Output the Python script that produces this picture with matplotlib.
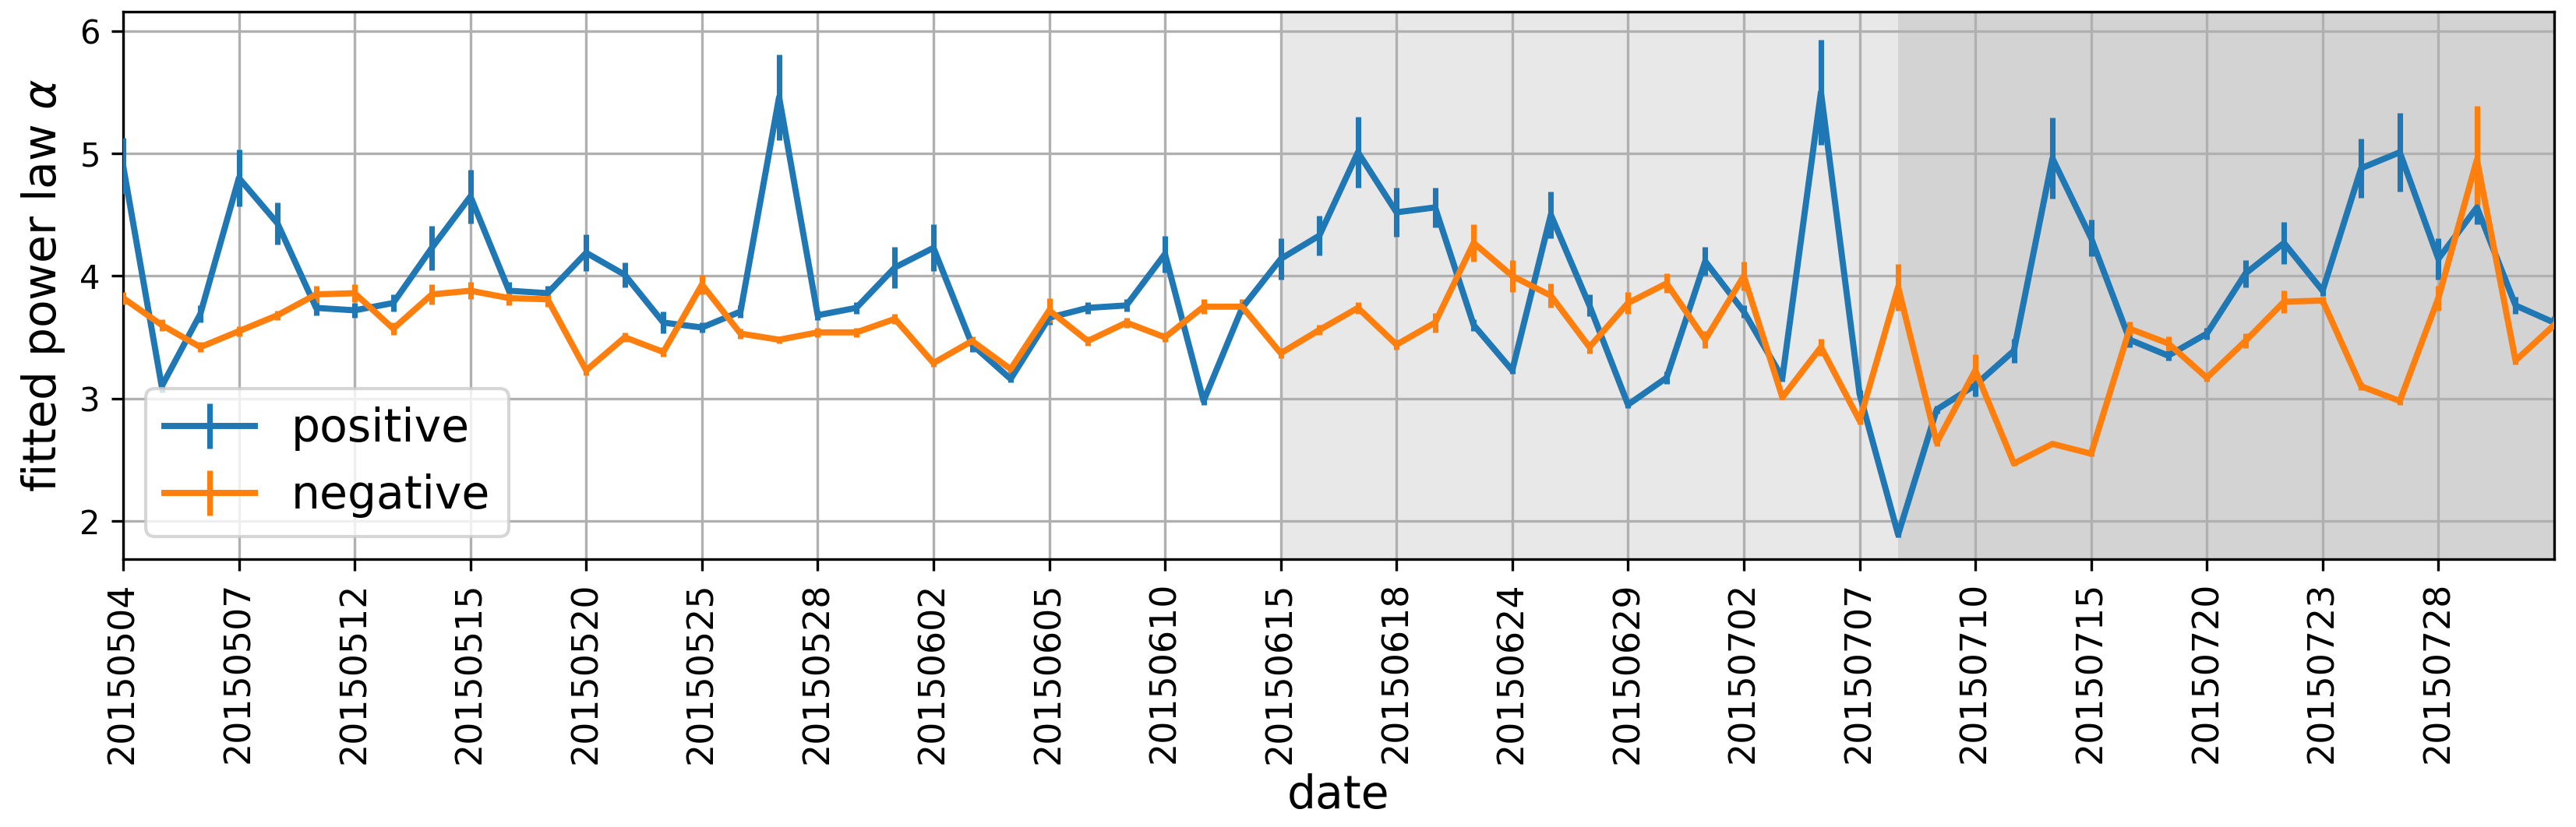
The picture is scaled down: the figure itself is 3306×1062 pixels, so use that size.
import numpy as np
import matplotlib
matplotlib.use("Agg")
import matplotlib.pyplot as plt

tick_labels = ["20150504", "20150507", "20150512", "20150515", "20150520", "20150525",
               "20150528", "20150602", "20150605", "20150610", "20150615", "20150618",
               "20150624", "20150629", "20150702", "20150707", "20150710", "20150715",
               "20150720", "20150723", "20150728"]

positive = [4.90, 3.10, 3.69, 4.80, 4.43, 3.74, 3.72, 3.78, 4.23, 4.65,
            3.88, 3.86, 4.19, 4.01, 3.62, 3.58, 3.71, 5.46, 3.68, 3.74,
            4.07, 4.23, 3.44, 3.16, 3.66, 3.74, 3.76, 4.18, 2.98, 3.74,
            4.14, 4.33, 5.01, 4.52, 4.56, 3.60, 3.23, 4.50, 3.76, 2.95,
            3.17, 4.12, 3.71, 3.17, 5.50, 3.04, 1.89, 2.91, 3.11, 3.39,
            4.96, 4.31, 3.48, 3.35, 3.53, 4.02, 4.27, 3.88, 4.88, 5.01,
            4.14, 4.56, 3.76, 3.62]
positive_err = [0.23, 0.05, 0.07, 0.23, 0.17, 0.06, 0.06, 0.07, 0.18, 0.22,
                0.07, 0.06, 0.15, 0.10, 0.09, 0.04, 0.05, 0.35, 0.04, 0.05,
                0.17, 0.19, 0.06, 0.03, 0.06, 0.05, 0.05, 0.15, 0.03, 0.05,
                0.17, 0.16, 0.29, 0.20, 0.16, 0.05, 0.03, 0.19, 0.09, 0.03,
                0.05, 0.12, 0.05, 0.03, 0.43, 0.03, 0.02, 0.03, 0.09, 0.10,
                0.33, 0.15, 0.06, 0.04, 0.05, 0.11, 0.17, 0.04, 0.24, 0.32,
                0.17, 0.14, 0.07, 0.05]

negative = [3.82, 3.60, 3.42, 3.55, 3.68, 3.85, 3.86, 3.57, 3.85, 3.88,
            3.82, 3.81, 3.23, 3.50, 3.38, 3.93, 3.53, 3.48, 3.54, 3.54,
            3.65, 3.29, 3.47, 3.24, 3.72, 3.47, 3.62, 3.50, 3.75, 3.75,
            3.37, 3.56, 3.74, 3.44, 3.62, 4.27, 4.00, 3.84, 3.42, 3.78,
            3.94, 3.48, 4.00, 3.01, 3.42, 2.82, 3.91, 2.64, 3.23, 2.47,
            2.63, 2.55, 3.57, 3.45, 3.17, 3.47, 3.79, 3.80, 3.10, 2.98,
            3.82, 4.95, 3.31, 3.60]
negative_err = [0.05, 0.05, 0.04, 0.04, 0.04, 0.07, 0.07, 0.05, 0.08, 0.07,
                0.06, 0.06, 0.04, 0.04, 0.04, 0.08, 0.04, 0.03, 0.04, 0.04,
                0.04, 0.03, 0.04, 0.04, 0.10, 0.04, 0.04, 0.04, 0.06, 0.06,
                0.04, 0.04, 0.05, 0.04, 0.08, 0.15, 0.13, 0.10, 0.05, 0.09,
                0.08, 0.07, 0.12, 0.02, 0.07, 0.03, 0.19, 0.03, 0.13, 0.02,
                0.02, 0.02, 0.06, 0.06, 0.03, 0.06, 0.09, 0.03, 0.03, 0.03,
                0.10, 0.44, 0.03, 0.03]

tick_step = 3
light_span = (30, 46)
dark_span = (46, 63)

x = np.arange(len(positive))

fig = plt.figure(figsize=(11.02, 3.54), dpi=300)
ax = fig.add_axes([0.0478, 0.324, 0.9437, 0.6615])

ax.axvspan(*light_span, color="#e8e8e8", lw=0, zorder=0.5)
ax.axvspan(*dark_span, color="#d3d3d3", lw=0, zorder=0.5)

ax.errorbar(x, positive, yerr=positive_err, color="#1f77b4", lw=1.9,
            elinewidth=1.7, label="positive", zorder=3)
ax.errorbar(x, negative, yerr=negative_err, color="#ff7f0e", lw=1.9,
            elinewidth=1.7, label="negative", zorder=3)

ax.set_xlim(0, len(positive) - 1)
ax.set_ylim(1.69, 6.155)
ax.set_yticks([2, 3, 4, 5, 6])
ax.set_xticks(np.arange(0, len(tick_labels) * tick_step, tick_step))
ax.set_xticklabels(tick_labels, rotation=90)
ax.tick_params(axis="x", labelsize=11)
ax.tick_params(axis="y", labelsize=10)
ax.grid(True, color="#b0b0b0", lw=0.8)

ax.set_xlabel("date", fontsize=14, labelpad=3)
ax.set_ylabel(r"fitted power law $\alpha$", fontsize=14)
ax.legend(loc="lower left", fontsize=14)

fig.savefig("out.png", dpi=300)
